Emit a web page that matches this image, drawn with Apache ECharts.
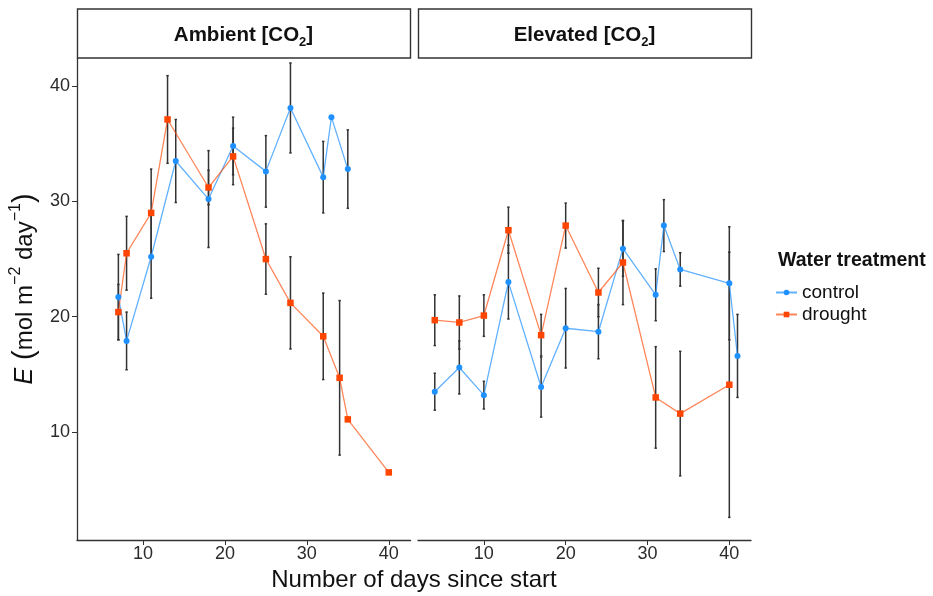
<!DOCTYPE html>
<html>
<head>
<meta charset="utf-8">
<script src="https://cdn.jsdelivr.net/npm/echarts@6/dist/echarts.min.js"></script>
<style>html,body{margin:0;padding:0;background:#fff}#c{width:933px;height:596px}</style>
</head>
<body>
<div id="c"></div>
<script>
// ---- data ----
const panels = ['Ambient', 'Elevated'];
const groups = ['control', 'drought'];
const xTicks = [10, 20, 30, 40];
const yTicks = [10, 20, 30, 40];

const ambControlDays = [7, 8, 11, 14, 18, 21, 25, 28, 32, 33, 35];
const ambControlE    = [21.7, 17.9, 25.2, 33.5, 30.2, 34.8, 32.6, 38.1, 32.1, 37.3, 32.8];
const ambControlErr  = [3.7, 2.5, 3.6, 3.6, 4.2, 2.5, 3.1, 3.9, 3.1, null, 3.4];

const ambDroughtDays = [7, 8, 11, 13, 18, 21, 25, 28, 32, 34, 35, 40];
const ambDroughtE    = [20.4, 25.5, 29.0, 37.1, 31.2, 33.9, 25.0, 21.2, 18.3, 14.7, 11.1, 6.5];
const ambDroughtErr  = [2.4, 3.2, 3.8, 3.8, 1.5, 2.45, 3.05, 4.0, 3.75, 6.7, null, null];

const elevControlDays = [4, 7, 10, 13, 17, 20, 24, 27, 31, 32, 34, 40, 41];
const elevControlE    = [13.5, 15.6, 13.2, 23.0, 13.9, 19.0, 18.7, 25.9, 21.9, 27.9, 24.1, 22.9, 16.6];
const elevControlErr  = [1.6, 2.3, 1.2, 3.2, 2.6, 3.45, 2.35, 2.4, 2.25, 2.25, 1.45, 4.9, 3.6];

const elevDroughtDays = [4, 7, 10, 13, 17, 20, 24, 27, 31, 34, 40];
const elevDroughtE    = [19.7, 19.5, 20.1, 27.5, 18.4, 27.9, 22.1, 24.7, 13.0, 11.6, 14.1];
const elevDroughtErr  = [2.2, 2.3, 1.8, 2.0, 1.8, 1.95, 2.1, 3.65, 4.4, 5.4, 11.5];

// ---- style ----
const FONT = 'Liberation Sans, Arial, sans-serif';
const colors = {
  control: { point: '#1E90FF', line: 'rgba(30,144,255,0.7)', symbol: 'circle', size: 6 },
  drought: { point: '#FF4500', line: 'rgba(255,69,0,0.65)', symbol: 'rect', size: 6.5 }
};
const XMIN = 1.95, XMAX = 42.65, YMIN = 0.64, YMAX = 42.43;

const seriesData = [
  { panel: 0, group: 'control', days: ambControlDays, E: ambControlE, err: ambControlErr },
  { panel: 0, group: 'drought', days: ambDroughtDays, E: ambDroughtE, err: ambDroughtErr },
  { panel: 1, group: 'control', days: elevControlDays, E: elevControlE, err: elevControlErr },
  { panel: 1, group: 'drought', days: elevDroughtDays, E: elevDroughtE, err: elevDroughtErr }
];

const series = [];
seriesData.forEach(s => {
  const c = colors[s.group];
  const eb = [];
  s.days.forEach((d, i) => { if (s.err[i] != null) eb.push([d, s.E[i] - s.err[i], s.E[i] + s.err[i]]); });
  series.push({
    type: 'custom', xAxisIndex: s.panel, yAxisIndex: s.panel, z: 1, silent: true,
    data: eb,
    renderItem: function (params, api) {
      const top = api.coord([api.value(0), api.value(2)]);
      const bot = api.coord([api.value(0), api.value(1)]);
      const st = { stroke: '#333', lineWidth: 1.5 };
      return { type: 'group', children: [
        { type: 'line', shape: { x1: top[0], y1: top[1], x2: bot[0], y2: bot[1] }, style: st },
        { type: 'line', shape: { x1: top[0] - 1.2, y1: top[1], x2: top[0] + 1.2, y2: top[1] }, style: st },
        { type: 'line', shape: { x1: bot[0] - 1.2, y1: bot[1], x2: bot[0] + 1.2, y2: bot[1] }, style: st }
      ]};
    }
  });
  series.push({
    type: 'line', name: s.group, xAxisIndex: s.panel, yAxisIndex: s.panel, z: 3,
    data: s.days.map((d, i) => [d, s.E[i]]),
    symbol: c.symbol, symbolSize: c.size, showSymbol: true,
    itemStyle: { color: c.point },
    lineStyle: { color: c.line, width: 1.3 },
    emphasis: { disabled: true }
  });
});

const gridDefs = [{ left: 77, top: 58, width: 333.5, height: 482 }, { left: 418, top: 58, width: 333, height: 482 }];

const xAxes = gridDefs.map((g, i) => ({
  type: 'value', gridIndex: i, min: XMIN, max: XMAX,
  axisLine: { show: true, onZero: false, lineStyle: { color: '#333', width: 1.3 } },
  axisTick: { show: true, length: 5, customValues: xTicks, lineStyle: { color: '#333', width: 1 } },
  axisLabel: { show: true, customValues: xTicks, fontSize: 18, color: '#2b2b2b', fontFamily: FONT, margin: 5 },
  splitLine: { show: false }
}));
const yAxes = gridDefs.map((g, i) => ({
  type: 'value', gridIndex: i, min: YMIN, max: YMAX,
  axisLine: { show: i === 0, onZero: false, lineStyle: { color: '#333', width: 1.3 } },
  axisTick: { show: i === 0, length: 5, customValues: yTicks, lineStyle: { color: '#333', width: 1 } },
  axisLabel: { show: i === 0, customValues: yTicks, fontSize: 18, color: '#2b2b2b', fontFamily: FONT, margin: 7 },
  splitLine: { show: false }
}));

const stripDefs = [
  { x: 77, w: 333, label: 'Ambient [CO' },
  { x: 418, w: 333, label: 'Elevated [CO' }
];
const graphics = [];
stripDefs.forEach(sd => {
  graphics.push({ type: 'rect', shape: { x: sd.x + 0.5, y: 9, width: sd.w, height: 49 },
    style: { fill: '#fff', stroke: '#333', lineWidth: 1.4 }, z: 10 });
  graphics.push({ type: 'text', x: sd.x + sd.w / 2, y: 35, z: 11,
    style: { text: '{a|' + sd.label + '}{s|2}{a|]}', align: 'center', verticalAlign: 'middle',
      rich: {
        a: { fontSize: 20.5, fontWeight: 'bold', fontFamily: FONT, fill: '#111', lineHeight: 28 },
        s: { fontSize: 13, fontWeight: 'bold', fontFamily: FONT, fill: '#111', lineHeight: 15, verticalAlign: 'bottom' }
      } } });
});
// y-axis title
graphics.push({ type: 'text', x: 25, y: 289, rotation: Math.PI / 2, z: 11,
  style: { text: '{e|E}{p| (}{m|mol m}{s|−2}{m| day}{s|−1}{p|)}', align: 'center', verticalAlign: 'middle',
    rich: {
      e: { fontSize: 25, fontStyle: 'italic', fontFamily: FONT, fill: '#111', lineHeight: 34 },
      p: { fontSize: 29, fontFamily: FONT, fill: '#111', lineHeight: 34 },
      m: { fontSize: 24, fontFamily: FONT, fill: '#111', lineHeight: 34 },
      s: { fontSize: 16, fontFamily: FONT, fill: '#111', lineHeight: 19, verticalAlign: 'top' }
    } } });
// x-axis title
graphics.push({ type: 'text', x: 414, y: 580, z: 11,
  style: { text: 'Number of days since start', align: 'center', verticalAlign: 'middle',
    fontSize: 24, fontFamily: FONT, fill: '#111' } });
// legend title
graphics.push({ type: 'text', x: 778, y: 261, z: 11,
  style: { text: 'Water treatment', align: 'left', verticalAlign: 'middle',
    fontSize: 19.5, fontWeight: 'bold', fontFamily: FONT, fill: '#111' } });

const chart = echarts.init(document.getElementById('c'), null, { renderer: 'canvas' });
chart.setOption({
  animation: false,
  backgroundColor: '#fff',
  grid: gridDefs.map(g => Object.assign({ containLabel: false }, g)),
  xAxis: xAxes,
  yAxis: yAxes,
  legend: {
    orient: 'vertical', left: 775, top: 282, padding: 0, itemWidth: 21, itemHeight: 7, itemGap: 1,
    data: groups,
    textStyle: { fontSize: 19, fontFamily: FONT, color: '#111', lineHeight: 21 },
    selectedMode: false
  },
  graphic: graphics,
  series: series
});
</script>
</body>
</html>
